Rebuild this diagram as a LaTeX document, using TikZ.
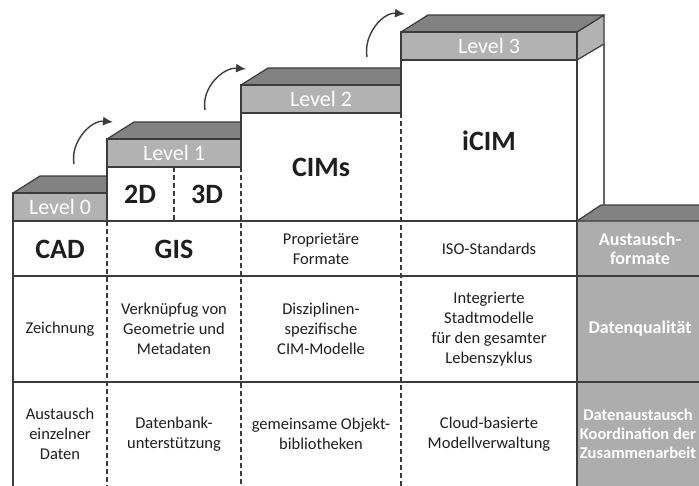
\documentclass[tikz,border=0pt]{standalone}
\usepackage{fontspec}
\setmainfont{Carlito}
\usetikzlibrary{arrows.meta}

\definecolor{edge}{HTML}{3C3C3C}
\definecolor{headgray}{HTML}{B2B2B2}
\definecolor{roofgray}{HTML}{828282}
\definecolor{colgray}{HTML}{ADADAD}
\definecolor{ink}{HTML}{1E1E1E}

\tikzset{
  head/.style={fill=headgray, draw=edge, line width=1.6pt},
  roof/.style={fill=roofgray, draw=edge, line width=1.2pt, line join=round},
  levelname/.style={text=white, inner sep=0pt, font=\fontsize{22}{24}\selectfont},
  big/.style={text=ink, inner sep=0pt, font=\bfseries\fontsize{28}{30}\selectfont},
  cell/.style={text=ink, inner sep=0pt, align=center, font=\fontsize{16.5}{20}\selectfont},
  sidecell/.style={text=white, inner sep=0pt, align=center, font=\bfseries\fontsize{18}{19}\selectfont},
  grid/.style={draw=edge, line width=1.6pt},
  divider/.style={draw=edge, line width=1.2pt, dash pattern=on 5pt off 3pt},
  jump/.style={draw=edge, line width=1.4pt, -{Latex[length=10pt,width=9pt]}},
}

\begin{document}
\begin{tikzpicture}[x=1pt,y=1pt]
  \useasboundingbox (0,0) rectangle (699,-485);
  \clip (0,0) rectangle (699,-485);

  % gray column on the right
  \fill[colgray] (577,-221) rectangle (705,-490);
  \filldraw[roof] (577,-221) -- (601,-205) -- (705,-205) -- (705,-221) -- cycle;

  % side of level 3
  \draw[draw=edge!80, line width=1.2pt] (604,-44) -- (604,-205);
  \filldraw[fill=headgray, draw=edge, line width=1.2pt] (577,-32) -- (604,-15) -- (604,-44) -- (577,-60) -- cycle;

  % the steps
  \foreach \xa/\xb/\xc/\yt/\n in {13/107/107/193/0, 107/241/241/139/1, 241/401/401/85/2, 401/577/604/32/3} {
    \filldraw[roof] (\xa,-\yt) -- (\xa+27,-\yt+17) -- (\xc,-\yt+17) -- (\xb,-\yt) -- cycle;
    \filldraw[head] (\xa,-\yt) rectangle (\xb,-\yt-28);
    \node[levelname] (level\n) at ({(\xa+\xb)/2},-\yt-14) {Level \n};
  }

  % table
  \draw[grid] (13,-221) -- (13,-490);
  \draw[grid] (13,-221) -- (577,-221);
  \draw[grid] (13,-276) -- (705,-276);
  \draw[grid] (13,-382) -- (705,-382);
  \draw[grid] (577,-32) -- (577,-490);
  \draw[grid] (107,-167) -- (107,-221);
  \draw[grid] (241,-113) -- (241,-139);
  \draw[grid] (401,-61) -- (401,-85);
  \draw[divider] (107,-221) -- (107,-490);
  \draw[divider] (174,-167) -- (174,-221);
  \draw[divider] (241,-167) -- (241,-490);
  \draw[divider] (401,-113) -- (401,-490);

  \node[big] (twod) at (140,-194) {2D};
  \node[big] (threed) at (207,-194) {3D};
  \node[big] (cims) at (321,-167) {CIMs};
  \node[big] (icim) at (489,-141) {iCIM};

  \node[big] (cad) at (60,-249) {CAD};
  \node[big] (gis) at (174,-249) {GIS};
  \node[cell] (proprietary) at (321,-249) {Proprietäre\\Formate};
  \node[cell] (iso) at (489,-249) {ISO-Standards};
  \node[sidecell] (exchange) at (640,-249) {Austausch-\\formate};

  \node[cell] (drawing) at (60,-329) {Zeichnung};
  \node[cell] (linking) at (174,-329) {Verknüpfug von\\Geometrie und\\Metadaten};
  \node[cell] (discipline) at (321,-329) {Disziplinen-\\spezifische\\CIM-Modelle};
  \node[cell] (integrated) at (489,-329) {Integrierte\\Stadtmodelle\\für den gesamter\\Lebenszyklus};
  \node[sidecell] (quality) at (640,-329) {Datenqualität};

  \node[cell] (single) at (60,-434) {Austausch\\einzelner\\Daten};
  \node[cell] (database) at (174,-434) {Datenbank-\\unterstützung};
  \node[cell] (library) at (321,-434) {gemeinsame Objekt-\\bibliotheken};
  \node[cell] (cloud) at (489,-434) {Cloud-basierte\\Modellverwaltung};
  \node[sidecell, font=\bfseries\fontsize{16.5}{19}\selectfont] (coordination) at (638,-434) {Datenaustausch\\Koordination der\\Zusammenarbeit};

  % arrows between the levels
  \coordinate (from0) at (74,-164);
  \coordinate (to1) at (113,-122);
  \coordinate (from1) at (205,-110);
  \coordinate (to2) at (246,-69);
  \coordinate (from2) at (367,-57);
  \coordinate (to3) at (405,-14);
  \draw[jump] (from0) to[out=100,in=175] (to1);
  \draw[jump] (from1) to[out=100,in=175] (to2);
  \draw[jump] (from2) to[out=100,in=175] (to3);

\end{tikzpicture}
\end{document}
